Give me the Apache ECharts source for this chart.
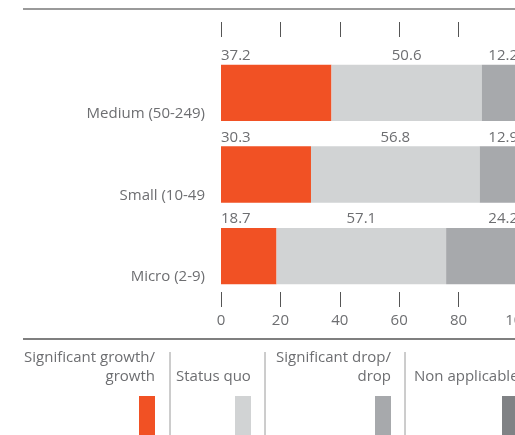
<!DOCTYPE html>
<html>
<head>
<meta charset="utf-8">
<script src="https://cdn.jsdelivr.net/npm/echarts@6/dist/echarts.min.js"></script>
<style>
  html, body { margin: 0; padding: 0; overflow: hidden; background: #fff; }
  #chart { width: 560px; height: 435px; }
</style>
</head>
<body>
<div id="chart"></div>
<script>
var categories = ['Medium (50-249)', 'Small (10-49', 'Micro (2-9)']
var growth = [37.2, 30.3, 18.7]
var statusQuo = [50.6, 56.8, 57.1]
var drop = [12.2, 12.9, 24.2]
var nonApplicable = [0, 0, 0]
var seriesNames = ['Significant growth/\ngrowth', 'Status quo', 'Significant drop/\ndrop', 'Non applicable']
var colors = ['#f15124', '#d1d3d4', '#a7a9ac', '#808285']
var xTicks = [0, 20, 40, 60, 80, 100]

var textColor = '#6d6e71'
var fontFamily = 'Open Sans'
var fontSize = 15

var chart = echarts.init(document.getElementById('chart'))

function labelAt(pos, align) {
  return {
    show: true,
    position: pos,
    align: align,
    verticalAlign: 'middle',
    color: textColor,
    fontFamily: fontFamily,
    fontSize: fontSize
  }
}

// legend drawn by hand: text block, swatch, separator
var legendLayout = [
  { right: 155, align: 'right', sep: 170 },
  { left: 176, align: 'left', sep: 265, swatch: 235 },
  { right: 391, align: 'right', sep: 405 },
  { left: 414, align: 'left', swatch: 502 }
]
var graphics = [
  { type: 'line', shape: { x1: 23, y1: 9, x2: 560, y2: 9 }, style: { stroke: '#9a9a9a', lineWidth: 2 } },
  { type: 'line', shape: { x1: 23, y1: 339, x2: 560, y2: 339 }, style: { stroke: '#555', lineWidth: 1.5 } }
]
legendLayout.forEach(function (l, i) {
  var lines = seriesNames[i].split('\n')
  var x = l.align === 'right' ? l.right : l.left
  graphics.push({
    type: 'text',
    x: x,
    y: lines.length > 1 ? 348 : 367,
    style: {
      text: seriesNames[i],
      align: l.align,
      fill: textColor,
      font: fontSize + 'px ' + fontFamily,
      lineHeight: 19
    }
  })
  var sx = l.swatch !== undefined ? l.swatch : l.right - 16
  graphics.push({ type: 'rect', shape: { x: sx, y: 396, width: 16, height: 45 }, style: { fill: colors[i] } })
  if (l.sep) {
    graphics.push({ type: 'line', shape: { x1: l.sep, y1: 352, x2: l.sep, y2: 435 }, style: { stroke: '#9a9a9a', lineWidth: 1 } })
  }
})

var xCommon = {
  type: 'value',
  min: xTicks[0],
  max: xTicks[xTicks.length - 1],
  interval: 20,
  splitLine: { show: false },
  axisLine: { show: false },
  axisTick: { show: true, length: 15, lineStyle: { color: '#555', width: 1 } }
}

chart.setOption({
  animation: false,
  textStyle: { fontFamily: fontFamily },
  graphic: graphics,
  grid: { left: 221, width: 297, top: 52, height: 245 },
  xAxis: [
    Object.assign({}, xCommon, {
      position: 'bottom',
      offset: -5,
      axisLabel: { margin: 21, color: textColor, fontSize: fontSize, fontFamily: fontFamily }
    }),
    Object.assign({}, xCommon, {
      position: 'top',
      offset: 15,
      axisLabel: { show: false }
    })
  ],
  yAxis: {
    type: 'category',
    inverse: true,
    data: categories,
    axisLine: { show: false },
    axisTick: { show: false },
    axisLabel: {
      margin: 16,
      color: textColor,
      fontSize: fontSize,
      fontFamily: fontFamily,
      verticalAlign: 'top',
      lineHeight: 42
    }
  },
  series: [
    { name: seriesNames[0], type: 'bar', stack: 'total', barCategoryGap: '31%', data: growth,
      itemStyle: { color: colors[0] }, label: labelAt([0, -9], 'left') },
    { name: seriesNames[1], type: 'bar', stack: 'total', data: statusQuo,
      itemStyle: { color: colors[1] }, label: labelAt(['50%', -9], 'center') },
    { name: seriesNames[2], type: 'bar', stack: 'total', data: drop,
      itemStyle: { color: colors[2] }, label: labelAt(['100%', -9], 'right') },
    { name: seriesNames[3], type: 'bar', stack: 'total', data: nonApplicable,
      itemStyle: { color: colors[3] }, label: { show: false } }
  ]
})
</script>
</body>
</html>
